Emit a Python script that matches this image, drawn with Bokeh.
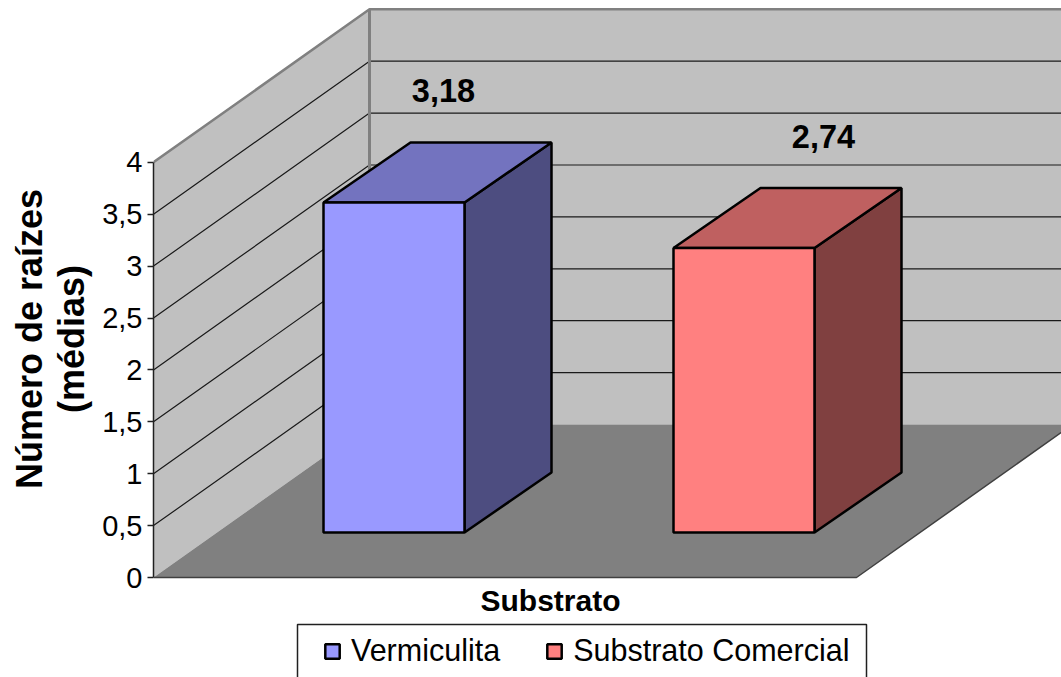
from bokeh.plotting import figure
from bokeh.models import FixedTicker, Legend, LegendItem, LinearAxis, Range1d
from bokeh.core.properties import value
from bokeh.embed import file_html
from bokeh.resources import INLINE

# Chart data
categories = ["Vermiculita", "Substrato Comercial"]
means = [3.18, 2.74]
mean_labels = ["3,18", "2,74"]
tick_values = [0, 0.5, 1, 1.5, 2, 2.5, 3, 3.5, 4]
tick_labels = ["0", "0,5", "1", "1,5", "2", "2,5", "3", "3,5", "4"]
front_colors = ["#9999FF", "#FF8080"]
top_colors = ["#7373BF", "#BF6060"]
side_colors = ["#4D4D80", "#804040"]

# Layout of the oblique projection
W, H = 1061, 677
FRAME_LEFT = 153
BASE_PX = 577          # screen row of value 0 on the front edge
UNIT_PX = 103.8        # screen pixels per value unit
WALL_DX = 216          # horizontal shift of the back wall
WALL_DV = 153 / UNIT_PX  # vertical shift of the back wall, in value units
FRONT_RIGHT = 856
BAR_LEFT = [323, 673]
BAR_W = 141
BAR_BASE = 45 / UNIT_PX
BAR_DX = 87
BAR_DV = 60 / UNIT_PX
LABEL_X = [443, 823]
LABEL_GAP = 112 / UNIT_PX
FONT = value("Liberation Sans")


def v(px):
    """Value coordinate of a screen row."""
    return (BASE_PX - px) / UNIT_PX


p = figure(width=W, height=H, output_backend="svg", toolbar_location=None,
           x_range=Range1d(FRAME_LEFT, W), y_range=Range1d(v(H), v(0)),
           min_border_left=FRAME_LEFT, min_border_right=0, min_border_top=0, min_border_bottom=0,
           x_axis_location=None, outline_line_color=None)
p.grid.visible = False

# Walls and floor
top = 4
bx = FRAME_LEFT + WALL_DX
p.patch([FRAME_LEFT, FRAME_LEFT, bx, bx], [0, top, top + WALL_DV, WALL_DV],
        fill_color="#C0C0C0", line_color=None)
p.patch([bx, bx, FRONT_RIGHT + WALL_DX, FRONT_RIGHT + WALL_DX],
        [WALL_DV, top + WALL_DV, top + WALL_DV, WALL_DV],
        fill_color="#C0C0C0", line_color=None)
p.patch([FRAME_LEFT, bx, FRONT_RIGHT + WALL_DX, FRONT_RIGHT],
        [0, WALL_DV, WALL_DV, 0], fill_color="#808080", line_color=None)

# Grid lines running across the side wall and the back wall
grid = [t for t in tick_values if t > 0 and t < top]
p.multi_line([[FRAME_LEFT, bx, FRONT_RIGHT + WALL_DX] for _ in grid],
             [[t, t + WALL_DV, t + WALL_DV] for t in grid],
             line_color="#1A1A1A", line_width=1.2)

# Outer edges of the walls
p.line([FRAME_LEFT, bx, FRONT_RIGHT + WALL_DX], [top, top + WALL_DV, top + WALL_DV],
       line_color="#808080", line_width=2.5)
p.line([bx, bx], [WALL_DV, top + WALL_DV], line_color="#808080", line_width=3)
p.line([FRAME_LEFT, FRONT_RIGHT, FRONT_RIGHT + WALL_DX], [0, 0, WALL_DV],
       line_color="#404040", line_width=1.5)

# Bars: side, top and front faces
items = []
for i, name in enumerate(categories):
    x0, x1 = BAR_LEFT[i], BAR_LEFT[i] + BAR_W
    y0, y1 = BAR_BASE, BAR_BASE + means[i]
    p.patch([x1, x1 + BAR_DX, x1 + BAR_DX, x1], [y0, y0 + BAR_DV, y1 + BAR_DV, y1],
            fill_color=side_colors[i], line_color="black", line_width=2.5)
    p.patch([x0, x0 + BAR_DX, x1 + BAR_DX, x1], [y1, y1 + BAR_DV, y1 + BAR_DV, y1],
            fill_color=top_colors[i], line_color="black", line_width=2.5)
    front = p.quad(left=[x0], right=[x1], bottom=[y0], top=[y1],
                   fill_color=front_colors[i], line_color="black", line_width=2.5)
    items.append(LegendItem(label=name, renderers=[front]))
    p.text([LABEL_X[i]], [y1 + LABEL_GAP], text=[mean_labels[i]], text_font=FONT,
           text_font_size="32.5px", text_font_style="bold", text_color="black",
           text_align="center", text_baseline="middle")

# Category axis title
p.text([550], [v(600)], text=["Substrato"], text_font=FONT, text_font_size="30px",
       text_font_style="bold", text_color="black", text_align="center",
       text_baseline="middle")

# Value axis, carrying the second line of its title
ax = p.yaxis[0]
ax.bounds = (0, top)
ax.ticker = FixedTicker(ticks=tick_values)
ax.major_label_overrides = dict(zip(tick_values, tick_labels))
ax.major_label_text_font = "Liberation Sans"
ax.major_label_text_font_size = "29px"
ax.major_label_text_color = "black"
ax.major_label_standoff = 5
ax.major_tick_out = 6
ax.major_tick_in = 0
ax.major_tick_line_color = "#202020"
ax.major_tick_line_width = 1.5
ax.minor_tick_line_color = None
ax.axis_line_color = "#202020"
ax.axis_line_width = 1.5
ax.axis_label = "(médias)"
ax.axis_label_text_font = "Liberation Sans"
ax.axis_label_text_font_size = "36px"
ax.axis_label_text_font_style = "bold"
ax.axis_label_text_color = "black"
ax.axis_label_standoff = 7

# Bare outer axis holding the first line of the title
title_axis = LinearAxis(ticker=FixedTicker(ticks=[]), axis_line_color=None,
                        major_tick_line_color=None, minor_tick_line_color=None,
                        major_label_standoff=0,
                        axis_label="Número de raízes", axis_label_text_font="Liberation Sans",
                        axis_label_text_font_size="36px", axis_label_text_font_style="bold",
                        axis_label_text_color="black", axis_label_standoff=-1)
p.add_layout(title_axis, "left")

# Legend: its frame runs off the bottom of the page
p.quad(left=[297], right=[866], bottom=[v(H + 6)], top=[v(624)],
       fill_color="white", line_color="#202020", line_width=1.5)
legend = Legend(items=items, orientation="horizontal", location=(323 - FRAME_LEFT, 9),
                label_text_font="Liberation Sans", label_text_font_size="30.5px",
                label_text_color="black", glyph_width=18, glyph_height=18,
                spacing=45, padding=0, margin=0, label_standoff=10,
                border_line_color=None, background_fill_alpha=0)
p.add_layout(legend, "center")

open("out.html", "w").write(file_html(p, INLINE))
